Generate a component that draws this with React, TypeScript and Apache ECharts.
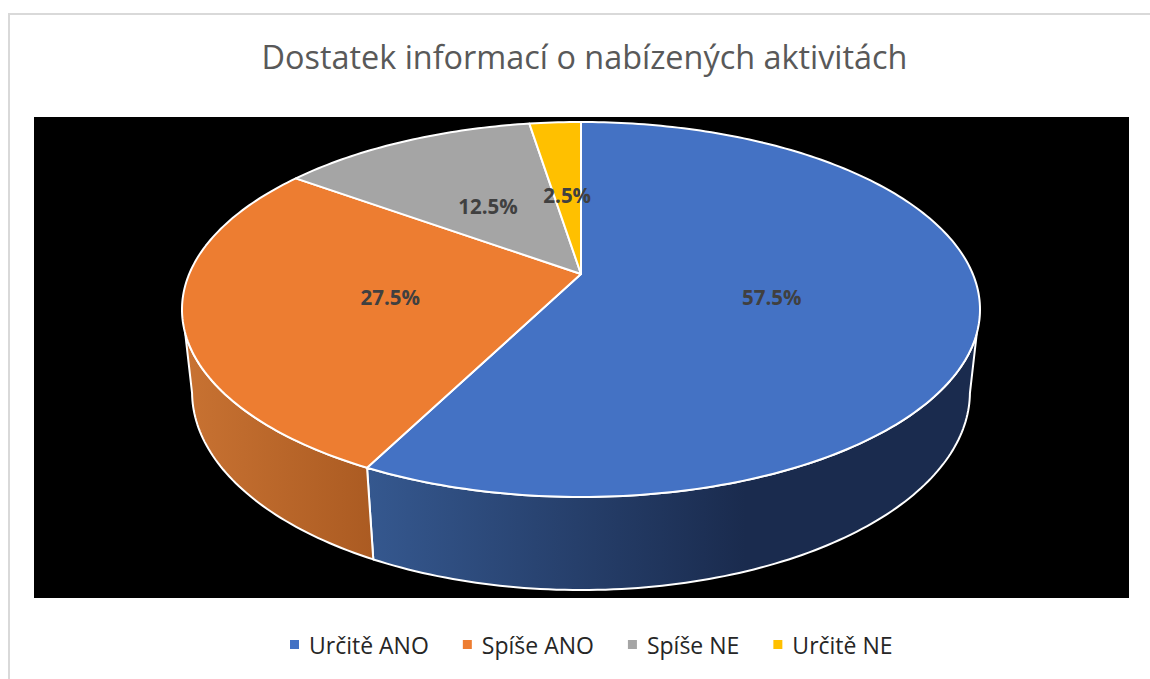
import React, { useEffect, useRef } from "react";
import * as echarts from "echarts";

const titleText = "Dostatek informací o nabízených aktivitách";
const categories = ["Určitě ANO", "Spíše ANO", "Spíše NE", "Určitě NE"];
const values = [57.5, 27.5, 12.5, 2.5];
const colors = ["#4472C4", "#ED7D31", "#A5A5A5", "#FFC000"];
const wallShades = [
  ["#35588F", "#1A2B4E"],
  ["#C87232", "#AB5B22"],
];

const FONT = '"Open Sans", sans-serif';
const CX = 581;
const AX = 391.8;
const TILT = -0.1893;
const TOP = { denom: 1, alpha: 274, beta: 128.9 };
const BOTTOM = { denom: 1.025, alpha: 364.2, beta: 128.9 };
const WALL_TOP = [108, 252];
const WALL_BOTTOM = [101, 259];
const LABEL_R = 0.49;
const LABEL_DY = 1.5;

type Plane = typeof TOP;

function project(plane: Plane, deg: number, r = 1): number[] {
  const t = (deg * Math.PI) / 180;
  const u = Math.sin(t) * r;
  const v = -Math.cos(t) * r;
  const d = plane.denom + TILT * v;
  return [CX + (AX * u) / d, (plane.alpha + plane.beta * v) / d];
}

function arc(plane: Plane, a: number, b: number): number[][] {
  const n = Math.max(1, Math.ceil(Math.abs(b - a)));
  const pts: number[][] = [];
  for (let i = 0; i <= n; i++) pts.push(project(plane, a + ((b - a) * i) / n));
  return pts;
}

function spans(): number[][] {
  const total = values.reduce((s, v) => s + v, 0);
  let acc = 0;
  return values.map((v) => {
    const a = (acc / total) * 360;
    acc += v;
    return [a, (acc / total) * 360];
  });
}

function buildOption(): any {
  const angle = spans();
  const wallSeries = values.map((_, i) => ({
    type: "custom",
    name: "wall" + i,
    coordinateSystem: "none",
    silent: true,
    z: 2,
    data: [[values[i]]],
    renderItem: () => {
      const [a, b] = angle[i];
      const t0 = Math.max(a, WALL_TOP[0]);
      const t1 = Math.min(b, WALL_TOP[1]);
      const b0 = Math.max(a, WALL_BOTTOM[0]);
      const b1 = Math.min(b, WALL_BOTTOM[1]);
      if (t1 <= t0 || b1 <= b0) return { type: "group", children: [] };
      const shade = wallShades[i];
      return {
        type: "polygon",
        shape: { points: [...arc(TOP, t0, t1), ...arc(BOTTOM, b1, b0)] },
        style: {
          fill: new echarts.graphic.LinearGradient(0, 0, 1, 0, [
            { offset: 0, color: shade[0] },
            { offset: i === 0 ? 0.62 : 1, color: shade[1] },
            { offset: 1, color: shade[1] },
          ]),
          stroke: "#ffffff",
          lineWidth: 2,
          lineJoin: "round",
        },
      };
    },
  }));
  const topSeries = values.map((_, i) => ({
    type: "custom",
    name: categories[i],
    coordinateSystem: "none",
    silent: true,
    z: 3,
    itemStyle: { color: colors[i] },
    data: [[values[i]]],
    renderItem: (_p: any, api: any) => {
      const [a, b] = angle[i];
      const mid = (a + b) / 2;
      const [lx, ly] = project(TOP, mid, LABEL_R);
      return {
        type: "group",
        children: [
          {
            type: "polygon",
            shape: { points: [project(TOP, 0, 0), ...arc(TOP, a, b)] },
            style: { fill: colors[i], stroke: "#ffffff", lineWidth: 2, lineJoin: "round" },
          },
          {
            type: "text",
            z2: 100,
            style: {
              text: `${api.value(0)}%`,
              x: lx,
              y: ly + LABEL_DY,
              align: "center",
              verticalAlign: "middle",
              fill: "#404040",
              font: `bold 20.5px ${FONT}`,
            },
          },
        ],
      };
    },
  }));
  return {
    animation: false,
    backgroundColor: "#ffffff",
    title: {
      text: titleText,
      left: 579.5,
      textAlign: "center",
      top: 35,
      textStyle: { color: "#595959", fontSize: 32.4, fontWeight: "normal", fontFamily: FONT },
    },
    legend: {
      data: categories,
      left: 285,
      top: 628,
      icon: "rect",
      itemWidth: 9,
      itemHeight: 9,
      itemGap: 34,
      selectedMode: false,
      textStyle: { color: "#262626", fontSize: 23, fontFamily: FONT, padding: [0, 0, 0, 5] },
    },
    graphic: [
      {
        type: "polyline",
        z: -10,
        shape: { points: [[9, 679], [9, 14], [1150, 14]] },
        style: { stroke: "#d9d9d9", fill: "none", lineWidth: 2 },
      },
      {
        type: "rect",
        z: -9,
        shape: { x: 34, y: 117, width: 1095, height: 481 },
        style: { fill: "#000000" },
      },
    ],
    series: [...wallSeries, ...topSeries],
  };
}

export default function App() {
  const ref = useRef<HTMLDivElement>(null);
  useEffect(() => {
    const chart = echarts.init(ref.current!, undefined, { renderer: "svg" });
    chart.setOption(buildOption());
    return () => chart.dispose();
  }, []);
  return <div ref={ref} style={{ position: "fixed", left: 0, top: 0, width: 1150, height: 679 }} />;
}
